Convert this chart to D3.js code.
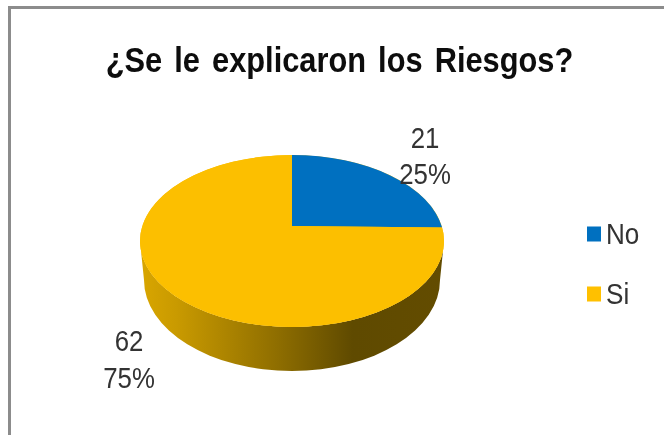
<!DOCTYPE html>
<html><head><meta charset="utf-8">
<script src="https://cdn.jsdelivr.net/npm/d3@7"></script>
<style>html,body{margin:0;padding:0;background:#fff;overflow:hidden}svg{display:block;filter:blur(0.45px)}text{font-family:"Liberation Sans",Arial,sans-serif}</style>
</head><body><svg id="c" width="664" height="435"></svg>
<script>
const chartTitle = "¿Se le explicaron los Riesgos?";
const categories = ["No", "Si"];
const values = [21, 62];
const sliceColors = ["#0070c0", "#fcbf00"];
const legendColors = ["#0070c0", "#ffc000"];

const W = 664, H = 435;
const svg = d3.select("#c");
const defs = svg.append("defs");

// frame
svg.append("path").attr("d", `M9.5,${H} V7.5 H${W}`).attr("fill", "none").attr("stroke", "#8c8c8c").attr("stroke-width", 3);

// title
svg.append("text").attr("transform", "translate(339.5,72) scale(0.88,1)").attr("text-anchor", "middle")
  .attr("font-size", 35).attr("font-weight", "bold").attr("word-spacing", 4).attr("fill", "#0d0d0d").text(chartTitle);

// pie geometry: the top face is a tilted ellipse with the apex above its centre
const cx = 292, cy = 241, rx = 152, ry = 86, apexY = 226;
const sx = 148, sy = 280, sry = 91;

const arcs = d3.pie().sort(null).value(d => d)(values);

// where the ray from the apex at pie angle a meets the ellipse
function rim(a) {
  const dx = rx * Math.sin(a), dy = -ry * Math.cos(a), oy = apexY - cy;
  const A = dx * dx / (rx * rx) + dy * dy / (ry * ry);
  const B = 2 * oy * dy / (ry * ry);
  const C = oy * oy / (ry * ry) - 1;
  const t = (-B + Math.sqrt(B * B - 4 * A * C)) / (2 * A);
  return [cx + t * dx, cy + oy + t * dy];
}

// side wall
const grad = defs.append("linearGradient").attr("id", "side").attr("gradientUnits", "userSpaceOnUse")
  .attr("x1", cx - rx).attr("x2", cx + rx).attr("y1", 0).attr("y2", 0);
[[0, "#d9a600"], [0.12, "#c99a00"], [0.45, "#8f6e00"], [0.7, "#5f4a00"], [1, "#634c00"]]
  .forEach(([o, c]) => grad.append("stop").attr("offset", o).attr("stop-color", c));
svg.append("path")
  .attr("d", `M${cx - rx},${cy} L${cx - sx},${sy} A${sx},${sry} 0 0 0 ${cx + sx},${sy} L${cx + rx},${cy} A${rx},${ry} 0 0 1 ${cx - rx},${cy} Z`)
  .attr("fill", "url(#side)");

// top face
svg.append("ellipse").attr("cx", cx).attr("cy", cy).attr("rx", rx).attr("ry", ry).attr("fill", sliceColors[1]);
svg.selectAll("path.slice").data(arcs).join("path").attr("class", "slice")
  .attr("fill", (d, i) => sliceColors[i])
  .attr("d", d => {
    const p0 = rim(d.startAngle), p1 = rim(d.endAngle);
    const large = d.endAngle - d.startAngle > Math.PI ? 1 : 0;
    return `M${cx},${apexY} L${p0[0]},${p0[1]} A${rx},${ry} 0 ${large} 1 ${p1[0]},${p1[1]} Z`;
  });

// data labels
const total = d3.sum(values), pct = d3.format(".0%");
const labelPos = [[425, 148, 184], [129, 351, 388]];
arcs.forEach((d, i) => {
  const [x, y1, y2] = labelPos[i];
  [[y1, String(d.value)], [y2, pct(d.value / total)]].forEach(([y, t]) => {
    svg.append("text").attr("transform", `translate(${x},${y}) scale(0.86,1)`).attr("text-anchor", "middle")
      .attr("font-size", 30).attr("fill", "#333").text(t);
  });
});

// legend
const legY = d3.scalePoint().domain(categories).range([234, 294]);
categories.forEach((c, i) => {
  svg.append("rect").attr("x", 587).attr("y", legY(c) - 7.5).attr("width", 14).attr("height", 15).attr("fill", legendColors[i]);
  svg.append("text").attr("transform", `translate(606,${legY(c) + 9.5}) scale(0.9,1)`)
    .attr("font-size", 29).attr("fill", "#333").text(c);
});
</script></body></html>
